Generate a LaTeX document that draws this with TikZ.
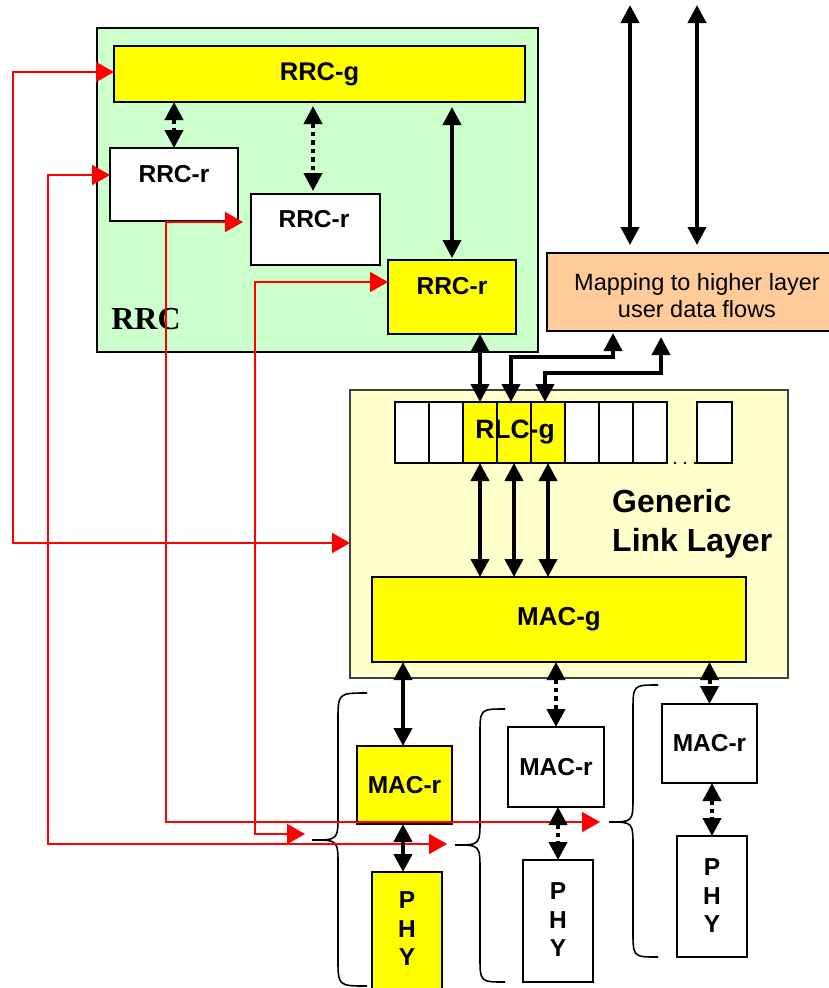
\documentclass[tikz,border=0pt]{standalone}
\usepackage{fontspec}
\setmainfont{Liberation Sans}
\newfontfamily\myserif{Liberation Serif}
\usetikzlibrary{arrows.meta}
\definecolor{rrcgreen}{RGB}{204,255,204}
\definecolor{gllyellow}{RGB}{255,255,204}
\definecolor{mapor}{RGB}{255,204,153}
\definecolor{yel}{RGB}{255,255,0}
\definecolor{arrred}{RGB}{255,0,0}
\begin{document}
\begin{tikzpicture}[x=1pt,y=-1pt,
  lbl/.style={font=\fontsize{24.5}{28.5}\selectfont\bfseries, inner sep=0pt, align=center},
  bx/.style={draw=black, line width=1.8pt, inner sep=0pt, outer sep=0pt, anchor=north west, font=\fontsize{24.5}{28}\selectfont\bfseries},
  cell/.style={draw=black, line width=1.5pt, inner sep=0pt, outer sep=0pt, anchor=north west, minimum height=61pt, fill=white},
  dbl/.style={line width=4pt, {Triangle[length=18pt,width=18pt]}-{Triangle[length=18pt,width=18pt]}},
  dotdbl/.style={dbl, dash pattern=on 4.5pt off 4pt},
  redarr/.style={draw=arrred, line width=1.8pt, {Triangle[length=18pt,width=20pt]}-{Triangle[length=18pt,width=20pt]}},
  brace/.style={draw=black, line width=1.6pt},
]
\useasboundingbox (0,0) rectangle (829,988);
\clip (0,0) rectangle (829,988);
\fill[white] (0,0) rectangle (829,988);

% containers
\node[bx, fill=rrcgreen, minimum width=441pt, minimum height=324pt] (rrc) at (97,28) {};
\node[bx, fill=gllyellow, draw=black!75, line width=1.5pt, minimum width=438pt, minimum height=288pt] (gll) at (350,390) {};
\node[bx, fill=mapor, line width=1.5pt, minimum width=300pt, minimum height=78pt] (orange) at (547,253) {};
\node[font=\fontsize{23.5}{27}\selectfont, align=center, inner sep=0pt] (orangetxt) at (697,296) {Mapping to higher layer\\user data flows};

% RRC part
\node[bx, fill=yel, minimum width=411pt, minimum height=56pt, font=\fontsize{25.5}{28}\selectfont\bfseries] (rrcg) at (114,46) {RRC-g};
\node[bx, fill=white, minimum width=128pt, minimum height=73pt] (rrcr1) at (110,148) {};
\node[lbl] (rrcr1t) at (174,174) {RRC-r};
\node[bx, fill=white, minimum width=129pt, minimum height=71pt] (rrcr2) at (251,194) {};
\node[lbl] (rrcr2t) at (314,219) {RRC-r};
\node[bx, fill=yel, minimum width=128pt, minimum height=74pt] (rrcr3) at (388,260) {};
\node[lbl] (rrcr3t) at (452,286) {RRC-r};
\node[font=\fontsize{32}{36}\selectfont\myserif\bfseries, inner sep=0pt] (rrclbl) at (146,319) {RRC};

% RLC cells
\node[cell, minimum width=34pt] (c1) at (395,402) {};
\node[cell, minimum width=34pt] (c2) at (429,402) {};
\node[cell, minimum width=34pt, fill=yel] (c3) at (463,402) {};
\node[cell, minimum width=34pt, fill=yel] (c4) at (497,402) {};
\node[cell, minimum width=34pt, fill=yel] (c5) at (531,402) {};
\node[cell, minimum width=34pt] (c6) at (565,402) {};
\node[cell, minimum width=34pt] (c7) at (599,402) {};
\node[cell, minimum width=34pt] (c8) at (633,402) {};
\node[cell, minimum width=35pt] (c10) at (697,402) {};
\node[lbl, font=\fontsize{26.5}{28}\selectfont\bfseries] (rlcg) at (515,432) {RLC-g};
\fill (675,463) circle (1.4pt) (685,463) circle (1.4pt) (695,463) circle (1.4pt);

\node[bx, fill=yel, minimum width=374pt, minimum height=85pt, font=\fontsize{26}{28}\selectfont\bfseries] (macg) at (372,577) {MAC-g};
\node[font=\fontsize{32}{39}\selectfont\bfseries, align=left, anchor=west, inner sep=0pt] (gllt) at (612,524) {Generic\\Link Layer};

% MAC-r / PHY
\node[bx, fill=yel, minimum width=95pt, minimum height=78pt] (macr1) at (357,746) {MAC-r};
\node[bx, fill=yel, minimum width=70pt, minimum height=140pt] (phy1) at (372,872) {};
\node[lbl] (phy1t) at (407,929) {P\\H\\Y};
\node[bx, fill=white, minimum width=96pt, minimum height=80pt] (macr2) at (508,727) {MAC-r};
\node[bx, fill=white, minimum width=70pt, minimum height=122pt] (phy2) at (523,860) {};
\node[lbl] (phy2t) at (558,920) {P\\H\\Y};
\node[bx, fill=white, minimum width=95pt, minimum height=79pt] (macr3) at (662,704) {MAC-r};
\node[bx, fill=white, minimum width=70pt, minimum height=121pt] (phy3) at (677,836) {};
\node[lbl] (phy3t) at (712,896) {P\\H\\Y};

% braces
\draw[brace] (367,693) .. controls (338,693) .. (338,721) -- (338,814) .. controls (338,840) .. (312,840) .. controls (338,840) .. (338,866) -- (338,958) .. controls (338,986) .. (367,986);
\draw[brace] (505,709) .. controls (480,709) .. (480,735) -- (480,819) .. controls (480,845) .. (455,845) .. controls (480,845) .. (480,871) -- (480,956) .. controls (480,982) .. (505,982);
\draw[brace] (658,685) .. controls (633,685) .. (633,711) -- (633,796) .. controls (633,822) .. (609,822) .. controls (633,822) .. (633,848) -- (633,931) .. controls (633,957) .. (658,957);

% red connectors
\coordinate (ra) at (13,72);
\coordinate (rb) at (13,543);
\draw[redarr] (rrcg.west |- ra) -- (ra) -- (rb) -- (gll.west |- rb);
\coordinate (rc) at (48,175);
\coordinate (rd) at (48,844);
\coordinate (re) at (447,844);
\draw[redarr] (rrcr1.west |- rc) -- (rc) -- (rd) -- (re);
\coordinate (rf) at (166,222);
\coordinate (rh) at (166,822);
\coordinate (ri) at (600,822);
\draw[redarr, shorten <=8pt] (rrcr2.west |- rf) -- (rf) -- (rh) -- (ri);
\coordinate (rj) at (255,282);
\coordinate (rk) at (255,834);
\coordinate (rl) at (305,834);
\draw[redarr] (rrcr3.west |- rj) -- (rj) -- (rk) -- (rl);

% black connectors in RRC
\draw[dotdbl] (rrcg.south -| rrcr1.north) -- (rrcr1.north);
\draw[dotdbl, shorten <=4pt, shorten >=3pt] (rrcg.south -| 313,0) -- (rrcr2.north -| 313,0);
\draw[dbl, shorten <=5pt, shorten >=2pt] (rrcg.south -| rrcr3.north) -- (rrcr3.north);
\draw[dbl] (rrcr3.south -| c3.north) -- (c3.north);

% top arrows
\coordinate (t1) at (630,5);
\coordinate (t3) at (697,5);
\draw[dbl, shorten >=8pt] (t1) -- (orange.north -| t1);
\draw[dbl, shorten >=8pt] (t3) -- (orange.north -| t3);

% RLC to mapping
\coordinate (m1) at (613,333);
\coordinate (m2) at (661,337);
\draw[dbl] (c4.north -| 511,0) -- (511,357) -| (m1);
\draw[dbl] (c5.north -| 545,0) -- (545,373) -| (m2);

% RLC to MAC-g
\draw[dbl] (c3.south) -- (c3.south |- macg.north);
\draw[dbl] (c4.south) -- (c4.south |- macg.north);
\draw[dbl] (c5.south) -- (c5.south |- macg.north);

% MAC-g to MAC-r, MAC-r to PHY
\draw[dbl] (macg.south -| 403,0) -- (macr1.north -| 403,0);
\draw[dbl] (macr1.south -| 403,0) -- (phy1.north -| 403,0);
\draw[dotdbl] (macg.south -| macr2.north) -- (macr2.north);
\draw[dotdbl] (macr2.south -| phy2.north) -- (phy2.north);
\draw[dotdbl] (macg.south -| macr3.north) -- (macr3.north);
\draw[dotdbl] (macr3.south -| phy3.north) -- (phy3.north);
\end{tikzpicture}
\end{document}
